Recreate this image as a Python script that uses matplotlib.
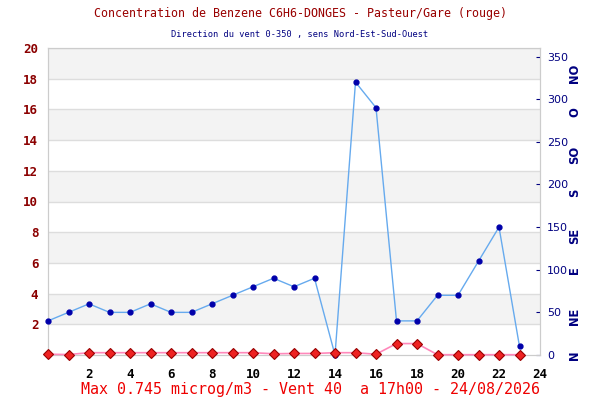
import numpy as np
import matplotlib.pyplot as plt

# hourly data
hours = list(range(24))
benzene = [0.05, 0.03, 0.15, 0.15, 0.15, 0.15, 0.15, 0.15, 0.15, 0.15, 0.15, 0.08,
           0.1, 0.1, 0.15, 0.15, 0.05, 0.745, 0.745, 0.02, 0.02, 0.02, 0.02, 0.02]
wind_dir = [40, 50, 60, 50, 50, 60, 50, 50, 60, 70, 80, 90,
            80, 90, 0, 320, 290, 40, 40, 70, 70, 110, 150, 10]

left_ticks = list(range(2, 21, 2))
right_ticks = list(range(0, 351, 50))
x_ticks = list(range(2, 25, 2))
dir_names = ['N', 'NE', 'E', 'SE', 'S', 'SO', 'O', 'NO']
dir_pos = [0, 45, 100, 140, 190, 235, 285, 330]

mono = 'DejaVu Sans Mono'
dark_red = '#8b0000'
navy = '#000080'

fig = plt.figure(figsize=(6, 4), dpi=100, facecolor='white')
ax = fig.add_axes([0.08, 0.1125, 0.82, 0.7675])
ax.set_xlim(0, 24)
ax.set_ylim(0, 20)

# alternating bands + grid (left axis, drawn behind everything)
for y0 in range(2, 20, 4):
    ax.axhspan(y0, y0 + 2, color='#f3f3f3', zorder=0, lw=0)
for y in left_ticks:
    ax.axhline(y, color='#dddddd', lw=1, zorder=0.5)

for s in ax.spines.values():
    s.set_color('#cccccc')

ax.set_xticks(x_ticks)
ax.set_xticklabels([str(t) for t in x_ticks], fontfamily=mono, fontweight='bold',
                   fontsize=9, color='black')
ax.tick_params(axis='x', length=0, pad=9)
ax.set_yticks(left_ticks)
ax.set_yticklabels([str(t) for t in left_ticks], fontfamily=mono, fontweight='bold',
                   fontsize=9, color=dark_red)
ax.tick_params(axis='y', length=0, pad=7)

ax2 = ax.twinx()
ax2.set_ylim(0, 360)
ax2.set_yticks(right_ticks)
ax2.set_yticklabels([str(t) for t in right_ticks], fontsize=8, color=navy)
ax2.tick_params(axis='y', direction='in', length=3, color=navy, pad=5)
for s in ax2.spines.values():
    s.set_color('#cccccc')

# wind direction (right scale)
ax2.plot(hours, wind_dir, color='#66aaee', lw=1, marker='o', ms=3.5,
         mfc='#0000aa', mec='#0000aa', zorder=3, clip_on=False)
# benzene (left scale), drawn on top
ax2.plot(hours, benzene, transform=ax.transData, color='#ff88bb', lw=1.2,
         marker='D', ms=5.5, mfc='#ee2222', mec='#990000', mew=0.8,
         zorder=4, clip_on=False)

for name, pos in zip(dir_names, dir_pos):
    ax2.text(1.07, pos, name, transform=ax2.get_yaxis_transform(), rotation=90,
             ha='center', va='center', fontsize=8.3, fontweight='bold', color=navy,
             fontfamily='DejaVu Sans')

fig.text(0.5, 0.965, 'Concentration de Benzene C6H6-DONGES - Pasteur/Gare (rouge)',
         ha='center', va='center', fontfamily=mono, fontsize=8.4, color='#990000')
fig.text(0.5, 0.915, 'Direction du vent 0-350 , sens Nord-Est-Sud-Ouest',
         ha='center', va='center', fontfamily=mono, fontsize=6.2, color=navy)
fig.text(0.517, 0.027, 'Max 0.745 microg/m3 - Vent 40  a 17h00 - 24/08/2026',
         ha='center', va='center', fontfamily=mono, fontsize=10.8, color='#ee0000')

fig.savefig('out.png', dpi=100, facecolor='white')
